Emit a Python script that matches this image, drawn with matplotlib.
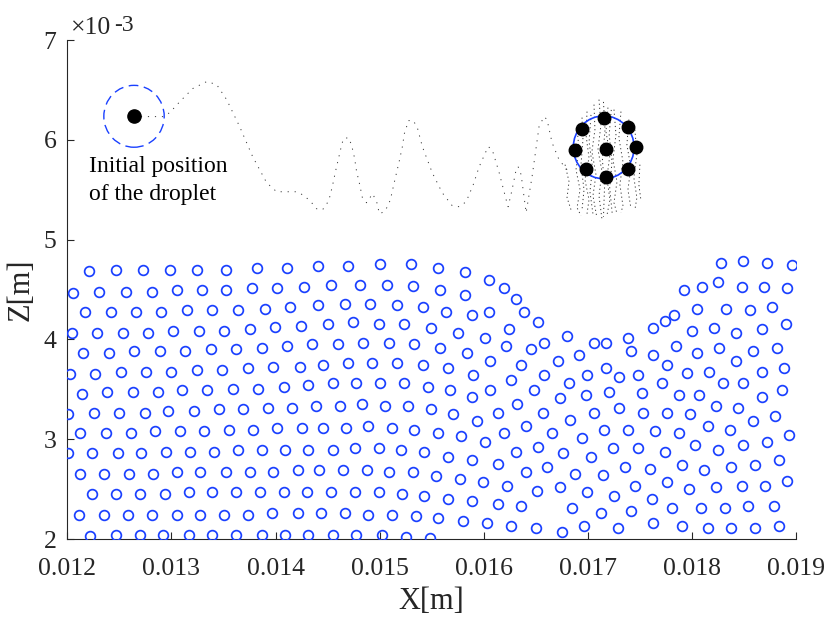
import matplotlib
matplotlib.use('Agg')
import matplotlib.pyplot as plt
from matplotlib.patches import Ellipse
from matplotlib.ticker import FixedLocator, FuncFormatter
import numpy as np

plt.rcParams['font.family'] = ['Liberation Serif', 'DejaVu Serif']

# ---------------- data (millimetres) ----------------
rowA_x = [12.207,12.466,12.725,12.987,13.249,13.524,13.818,14.112,14.406,14.697,15.007,15.301,15.560,15.822,16.049,16.196,16.308,16.390,16.519,16.582]
rowA_z = [4.681,4.698,4.698,4.698,4.698,4.698,4.718,4.718,4.731,4.731,4.751,4.751,4.715,4.678,4.598,4.511,4.404,4.274,4.174,3.969]
rowB_x = [12.057,12.303,12.565,12.808,13.051,13.297,13.524,13.770,14.013,14.273,14.534,14.808,15.071,15.317,15.575,15.822]
rowB_z = [4.464,4.480,4.480,4.480,4.494,4.494,4.494,4.511,4.511,4.528,4.548,4.548,4.548,4.531,4.494,4.444]
rowC_x = [12.172,12.415,12.661,12.904,13.150,13.393,13.639,13.897,14.141,14.406,14.665,14.908,15.170,15.412,15.640,15.886,16.049]
rowC_z = [4.277,4.277,4.277,4.277,4.294,4.294,4.294,4.310,4.327,4.344,4.360,4.360,4.344,4.324,4.274,4.240,4.274]
rowD_x = [12.041,12.284,12.530,12.773,13.019,13.262,13.508,13.751,13.997,14.245,14.502,14.745,14.991,15.234,15.496,15.755,16.014,16.244]
rowD_z = [4.069,4.069,4.069,4.069,4.089,4.089,4.089,4.106,4.123,4.136,4.153,4.170,4.153,4.153,4.119,4.069,4.019,4.103]
rowE_x = [12.152,12.399,12.641,12.888,13.130,13.377,13.619,13.866,14.108,14.352,14.597,14.841,15.086,15.333,15.575,15.838,16.212,16.455]
rowE_z = [3.863,3.863,3.883,3.883,3.883,3.903,3.903,3.919,3.936,3.953,3.953,3.969,3.969,3.953,3.919,3.866,3.936,3.903]
rowF_x = [12.025,12.268,12.514,12.757,13.000,13.246,13.489,13.735,13.978,14.230,14.451,14.697,14.923,15.170,15.412,15.659,15.901,16.064,16.356]
rowF_z = [3.655,3.655,3.675,3.675,3.675,3.695,3.695,3.712,3.728,3.728,3.745,3.765,3.765,3.765,3.745,3.712,3.645,3.782,3.748]
rowG_x = [12.137,12.383,12.626,12.869,13.099,13.345,13.588,13.834,14.077,14.307,14.549,14.777,15.007,15.234,15.464,15.675,15.886,16.064,16.263,16.486,16.582]
rowG_z = [3.454,3.471,3.471,3.471,3.491,3.491,3.508,3.508,3.525,3.545,3.562,3.562,3.562,3.562,3.528,3.494,3.427,3.494,3.595,3.494,3.645]
rowH_x = [12.009,12.252,12.498,12.741,12.971,13.214,13.460,13.687,13.930,14.160,14.390,14.617,14.828,15.055,15.269,15.496,15.707,15.934,16.132,16.323,16.570]
rowH_z = [3.251,3.267,3.267,3.267,3.284,3.284,3.301,3.301,3.317,3.317,3.334,3.334,3.351,3.334,3.334,3.301,3.251,3.181,3.267,3.351,3.267]
rowI_x = [12.124,12.367,12.610,12.840,13.082,13.310,13.556,13.782,14.013,14.249,14.451,14.681,14.892,15.122,15.333,15.560,15.786,16.014,16.196,16.407,16.652]
rowI_z = [3.063,3.063,3.063,3.080,3.080,3.080,3.096,3.096,3.113,3.113,3.113,3.113,3.130,3.113,3.096,3.063,3.030,2.976,3.063,3.130,3.058]
rowJ_x = [12.009,12.236,12.482,12.709,12.952,13.182,13.409,13.639,13.866,14.093,14.312,14.549,14.760,14.991,15.201,15.429,15.659,15.886,16.132,16.308,16.517]
rowJ_z = [2.860,2.860,2.860,2.860,2.876,2.876,2.876,2.893,2.893,2.893,2.893,2.893,2.910,2.910,2.893,2.876,2.825,2.789,2.755,2.876,2.926]
rowK_x = [12.124,12.351,12.593,12.824,13.051,13.278,13.524,13.751,13.978,14.219,14.419,14.649,14.875,15.086,15.317,15.544,15.771,15.997,16.227,16.407,16.611]
rowK_z = [2.655,2.655,2.655,2.655,2.672,2.672,2.672,2.672,2.672,2.689,2.689,2.689,2.689,2.672,2.672,2.635,2.602,2.569,2.532,2.672,2.722]
rowL_x = [12.236,12.466,12.693,12.936,13.166,13.393,13.619,13.850,14.077,14.305,14.534,14.760,14.991,15.218,15.429,15.659,15.886,16.132,16.356,16.507]
rowL_z = [2.448,2.448,2.448,2.448,2.468,2.468,2.468,2.468,2.468,2.468,2.468,2.468,2.468,2.451,2.431,2.398,2.381,2.348,2.331,2.484]
rowM_x = [12.108,12.351,12.578,12.808,13.051,13.278,13.508,13.735,13.962,14.219,14.434,14.665,14.892,15.122,15.349,15.560,15.803,16.033,16.260,16.503]
rowM_z = [2.244,2.244,2.244,2.244,2.244,2.244,2.244,2.244,2.261,2.261,2.261,2.261,2.244,2.244,2.228,2.211,2.178,2.160,2.127,2.110]
rowN_x = [12.220,12.466,12.693,12.920,13.166,13.393,13.619,13.866,14.093,14.310,14.549,14.777,15.023,15.249,15.480]
rowN_z = [2.027,2.043,2.043,2.043,2.043,2.043,2.043,2.043,2.043,2.040,2.040,2.040,2.040,2.023,2.007]

right1_x = [18.279,18.494,18.720,18.964,17.922,18.101,18.248,18.478,18.689,18.916,18.053,18.331,18.557,18.768,17.627,17.742,17.826,18.005,18.216,18.427,18.672,18.900]
right1_z = [4.765,4.781,4.765,4.748,4.494,4.528,4.578,4.528,4.528,4.511,4.307,4.307,4.290,4.324,4.119,4.187,4.240,4.086,4.119,4.069,4.103,4.153]
right2_x = [16.800,17.059,17.174,17.385,17.416,17.627,17.842,18.053,18.264,18.427,18.590,18.816,16.716,16.912,17.174,17.301,17.481,17.759,17.953,18.164,18.672,18.883,16.816,16.994,17.205,17.516,17.711,17.874,18.068,18.296,18.494,18.672,18.868,16.979,16.733]
right2_z = [4.036,3.969,3.969,4.019,3.883,3.849,3.933,3.866,3.916,3.782,3.883,3.916,3.782,3.849,3.712,3.628,3.645,3.745,3.662,3.678,3.678,3.712,3.562,3.645,3.477,3.461,3.562,3.444,3.444,3.562,3.562,3.427,3.494,3.444,3.411]
right3_x = [16.831,17.059,17.301,17.531,17.759,17.986,18.231,18.442,18.590,18.801,16.944,17.157,17.385,17.644,17.874,18.152,18.363,18.720,18.931,16.764,17.027,17.238,17.481,17.742,18.034,18.250,18.494,16.879,17.142,17.353,17.596,17.905,18.116,18.379,18.609,18.832]
right3_z = [3.197,3.267,3.317,3.267,3.267,3.251,3.334,3.317,3.181,3.234,3.010,3.096,3.096,3.080,3.063,3.130,3.096,2.976,3.046,2.860,2.825,2.910,2.910,2.876,2.943,2.893,2.943,2.655,2.639,2.722,2.705,2.739,2.689,2.722,2.739,2.789]
right4_x = [16.733,16.994,17.253,17.449,17.759,17.970,18.231,18.478,18.705,18.916,16.848,17.126,17.416,17.612,17.807,18.085,18.315,18.542,18.787,16.749,16.963,17.286,17.627,17.905,18.152,18.379,18.609,18.835]
right4_z = [2.519,2.468,2.431,2.535,2.569,2.502,2.519,2.535,2.535,2.585,2.314,2.261,2.281,2.398,2.314,2.314,2.314,2.331,2.331,2.073,2.127,2.110,2.160,2.127,2.110,2.110,2.110,2.127]

# droplet trajectory (mm)
traj_x = [12.639,12.917,12.984,13.080,13.204,13.339,13.434,13.530,13.655,13.780,13.914,14.010,14.201,14.259,14.307,14.355,14.393,14.451,14.489,14.518,14.547,14.575,14.604,14.633,14.652,14.700,14.729,14.758,14.777,14.806,14.834,14.873,14.901,14.930,14.969,14.997,15.045,15.074,15.103,15.131,15.160,15.189,15.218,15.237,15.256,15.275,15.323,15.362,15.410,15.505,15.601,15.697,15.764,15.831,15.899,15.956,16.042,16.081,16.148,16.215,16.234,16.272,16.311,16.330,16.359,16.407,16.464,16.531,16.579,16.608,16.656,16.723,16.800]
traj_z = [6.233,6.233,6.273,6.383,6.514,6.584,6.554,6.403,6.132,5.831,5.571,5.480,5.480,5.450,5.410,5.360,5.310,5.300,5.350,5.420,5.541,5.681,5.811,5.942,6.012,6.022,5.952,5.821,5.691,5.561,5.420,5.370,5.410,5.460,5.390,5.260,5.280,5.330,5.400,5.531,5.661,5.791,5.932,6.062,6.122,6.193,6.193,6.122,5.932,5.671,5.470,5.340,5.330,5.380,5.551,5.731,5.932,5.902,5.671,5.400,5.330,5.500,5.701,5.731,5.651,5.270,5.631,6.132,6.233,6.203,5.972,5.801,5.701]

# trails of the droplet particles near the final position (mm)
trails_x = [
    [16.781,16.819,16.800,16.838],
    [16.896,16.915,16.886,16.925,16.896,16.934],
    [16.992,16.982,17.011,16.972,17.011,16.992],
    [17.059,17.068,17.039,17.078,17.049,17.087],
    [17.107,17.126,17.097,17.136,17.107,17.136],
    [17.193,17.174,17.212,17.183,17.212,17.183],
    [17.251,17.270,17.241,17.280,17.251,17.280],
    [17.318,17.298,17.337,17.308,17.337,17.318],
    [17.394,17.375,17.413,17.385,17.413],
    [17.452,17.471,17.442,17.471,17.452],
    [17.500,17.490,17.509],
    [16.944,16.953,16.934,16.963,16.944],
    [17.030,17.012,17.045,17.020,17.050],
    [17.150,17.165,17.140,17.160,17.150],
    [17.225,17.205,17.232,17.210,17.235],
]
trails_z = [
    [5.751,5.581,5.420,5.300],
    [6.122,5.902,5.701,5.500,5.320,5.240],
    [6.283,6.052,5.821,5.601,5.400,5.260],
    [6.353,6.102,5.882,5.651,5.440,5.220],
    [6.403,6.152,5.902,5.681,5.440,5.200],
    [6.323,6.082,5.852,5.621,5.400,5.240],
    [6.303,6.052,5.801,5.581,5.370,5.260],
    [6.283,6.022,5.781,5.551,5.340,5.270],
    [6.203,5.952,5.721,5.500,5.320],
    [6.102,5.852,5.621,5.420,5.300],
    [5.751,5.551,5.400],
    [6.223,6.002,5.751,5.500,5.300],
    [6.250,5.980,5.720,5.480,5.250],
    [6.380,6.100,5.800,5.520,5.230],
    [6.300,6.050,5.780,5.520,5.250],
]

init_x, init_z = 12.640, 6.236
init_rx, init_rz = 0.290, 0.310
final_cx, final_cz = 17.152, 5.925
final_rx, final_rz = 0.292, 0.315
drop_x = [17.157, 16.944, 17.385, 16.879, 17.174, 17.464, 16.982, 17.385, 17.174]
drop_z = [6.216, 6.112, 6.132, 5.895, 5.909, 5.925, 5.708, 5.708, 5.628]

x_ticks = [0.012, 0.013, 0.014, 0.015, 0.016, 0.017, 0.018, 0.019]
z_ticks = [2, 3, 4, 5, 6, 7]

# ---------------- drawing ----------------
MM = 1e-3
BLUE = '#1a40ff'
AXC = '#262626'

fig = plt.figure(figsize=(8.28, 6.21), dpi=100)
ax = fig.add_axes([0.0814, 0.1320, 0.8800, 0.8035])

rows = [(rowA_x, rowA_z), (rowB_x, rowB_z), (rowC_x, rowC_z), (rowD_x, rowD_z),
        (rowE_x, rowE_z), (rowF_x, rowF_z), (rowG_x, rowG_z), (rowH_x, rowH_z),
        (rowI_x, rowI_z), (rowJ_x, rowJ_z), (rowK_x, rowK_z), (rowL_x, rowL_z),
        (rowM_x, rowM_z), (rowN_x, rowN_z),
        (right1_x, right1_z), (right2_x, right2_z), (right3_x, right3_z), (right4_x, right4_z)]
for xs, zs in rows:
    ax.plot(np.array(xs) * MM, np.array(zs) * MM, linestyle='none', marker='o',
            ms=7.0, mfc='none', mec=BLUE, mew=1.25, zorder=3)

ax.plot(np.array(traj_x) * MM, np.array(traj_z) * MM, zorder=2,
        color='#3a3a3a', lw=0.7, linestyle=(0, (1.2, 6)))
for tx, tz in zip(trails_x, trails_z):
    ax.plot(np.array(tx) * MM, np.array(tz) * MM, zorder=2,
            color='#333333', lw=0.7, linestyle=(0, (1.2, 3.0)))

ax.add_patch(Ellipse((init_x * MM, init_z * MM), 2 * init_rx * MM, 2 * init_rz * MM,
                     fill=False, edgecolor=BLUE, lw=1.0, linestyle=(0, (7, 4)), zorder=4))
ax.add_patch(Ellipse((final_cx * MM, final_cz * MM), 2 * final_rx * MM, 2 * final_rz * MM,
                     fill=False, edgecolor=BLUE, lw=1.2, zorder=4))
ax.plot([init_x * MM], [init_z * MM], linestyle='none', marker='o', ms=9.5, color='black', zorder=5)
ax.plot(np.array(drop_x) * MM, np.array(drop_z) * MM, linestyle='none', marker='o',
        ms=9.0, color='black', zorder=5)

ax.text(12.207 * MM, 5.676 * MM, 'Initial position', fontsize=17, va='baseline', ha='left')
ax.text(12.207 * MM, 5.400 * MM, 'of the droplet', fontsize=17, va='baseline', ha='left')

ax.set_xlim(0.012, 0.019)
ax.set_ylim(0.002, 0.007)
ax.xaxis.set_major_locator(FixedLocator(x_ticks))
ax.yaxis.set_major_locator(FixedLocator([v * MM for v in z_ticks]))
ax.xaxis.set_major_formatter(FuncFormatter(lambda v, p: f'{v:.3f}'))
ax.yaxis.set_major_formatter(FuncFormatter(lambda v, p: f'{v / MM:.0f}'))

for s in ['top', 'right']:
    ax.spines[s].set_visible(False)
for s in ['left', 'bottom']:
    ax.spines[s].set_color(AXC)
    ax.spines[s].set_linewidth(0.8)
ax.tick_params(direction='in', length=5, width=0.8, color=AXC, labelcolor=AXC,
               labelsize=18.5)
ax.tick_params(axis='x', pad=14)
ax.tick_params(axis='y', pad=8)

ax.set_xlabel('X[m]', fontsize=22, color=AXC, labelpad=5)
ax.set_ylabel('Z[m]', fontsize=22, color=AXC, labelpad=6)

fig.text(71 / 828, 1 - 34.3 / 621, '\u00d710', fontsize=18.5, color=AXC, ha='left', va='baseline')
fig.text(114 / 828, 1 - 30.7 / 621, '-3', fontsize=17, color=AXC, ha='left', va='baseline')

fig.savefig('out.png', dpi=100, facecolor='white')
